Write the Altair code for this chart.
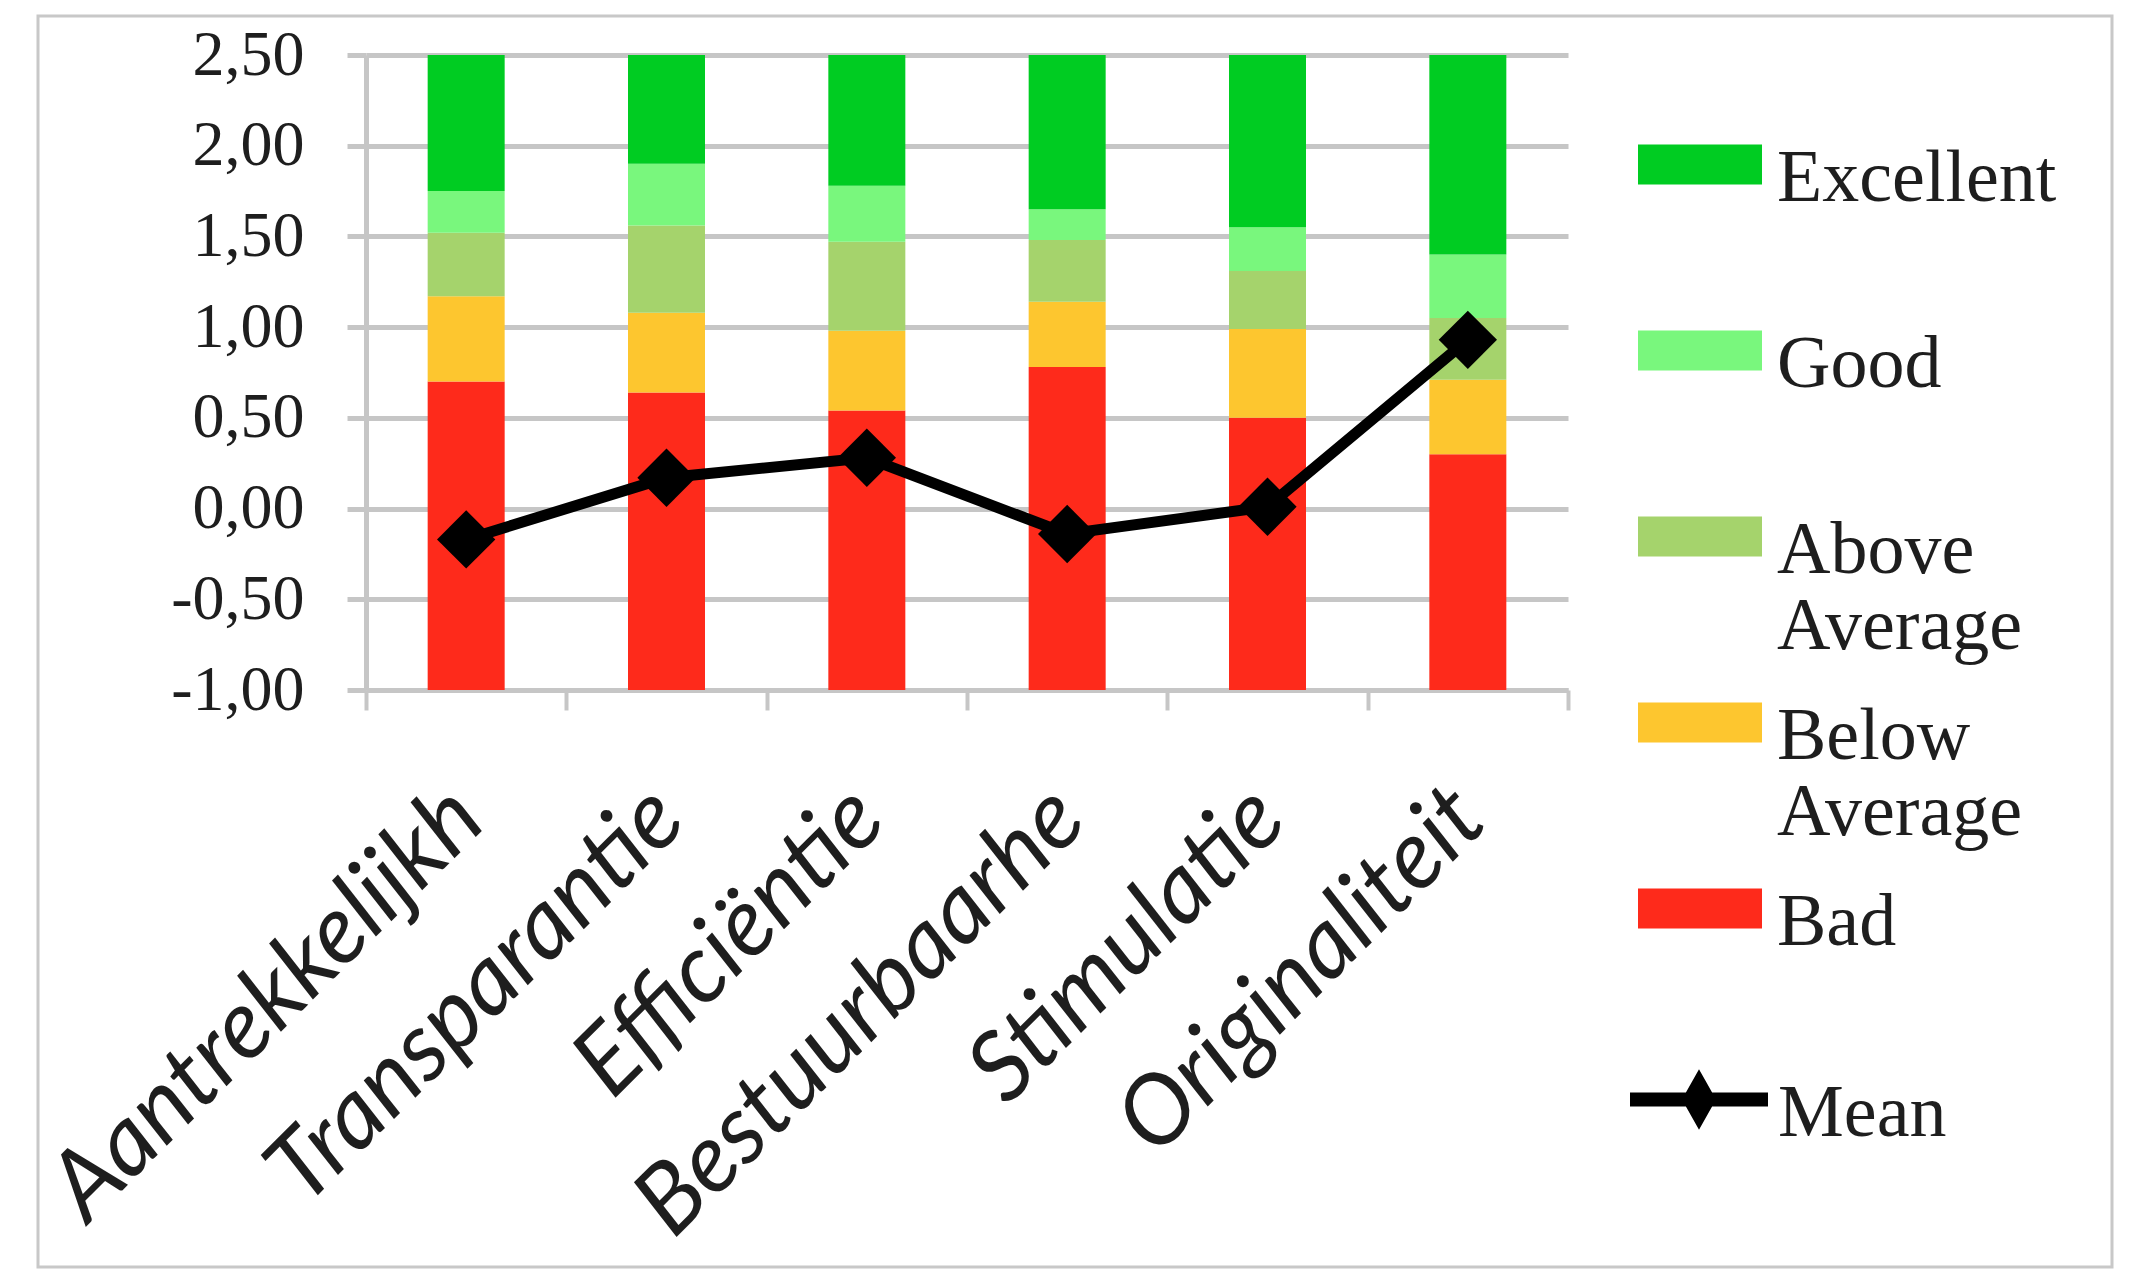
import altair as alt
import pandas as pd

categories = ["Aantrekkelijkh", "Transparantie", "Efficiëntie", "Bestuurbaarhe", "Stimulatie", "Originaliteit"]
levels = ["Excellent", "Good", "Above Average", "Below Average", "Bad"]
level_colors = ["#00cc22", "#79f77d", "#a5d36c", "#fdc62f", "#fe2a1b"]
axis_min = -1.0
bad_top = [0.70, 0.64, 0.54, 0.78, 0.50, 0.30]
below_top = [1.17, 1.08, 0.98, 1.14, 0.99, 0.71]
above_top = [1.52, 1.56, 1.47, 1.48, 1.31, 1.05]
good_top = [1.75, 1.90, 1.78, 1.65, 1.55, 1.40]
excellent_top = [2.50, 2.50, 2.50, 2.50, 2.50, 2.50]
mean_values = [-0.17, 0.17, 0.28, -0.14, 0.01, 0.93]
y_ticks = [-1.0, -0.5, 0.0, 0.5, 1.0, 1.5, 2.0, 2.5]

rows = []
stack_order = ["Bad", "Below Average", "Above Average", "Good", "Excellent"]
for i, c in enumerate(categories):
    bounds = [axis_min, bad_top[i], below_top[i], above_top[i], good_top[i], excellent_top[i]]
    for j, lvl in enumerate(stack_order):
        rows.append({"cat": c, "level": lvl, "lo": bounds[j], "hi": bounds[j + 1]})
bars_df = pd.DataFrame(rows)
mean_df = pd.DataFrame({"cat": categories, "mean": mean_values, "series": ["Mean"] * len(categories)})

GRID = "#c6c6c6"
TXT = "#1e1e1e"

x_enc = alt.X(
    "cat:N",
    sort=categories,
    scale=alt.Scale(paddingInner=0, paddingOuter=0),
    axis=alt.Axis(
        title=None, grid=False, tickBand="extent", tickSize=20, tickColor=GRID, tickWidth=4,
        domainColor=GRID, domainWidth=5, labelAngle=-45, labelAlign="right", labelBaseline="top",
        labelFont="Lato", labelFontStyle="italic", labelFontSize=96, labelPadding=60,
        labelOffset=-32, labelColor=TXT, labelLimit=2000,
    ),
)
y_scale = alt.Scale(domain=[-1, 2.5], nice=False, zero=False)

border = alt.Chart(pd.DataFrame({"a": [0]})).mark_rect(
    fill="transparent", stroke="#c8c8c8", strokeWidth=3
).encode(x=alt.value(-328), x2=alt.value(1746), y=alt.value(-39), y2=alt.value(1212))

bars = alt.Chart(bars_df).mark_bar(size=77).encode(
    x=x_enc,
    y=alt.Y(
        "lo:Q", scale=y_scale,
        axis=alt.Axis(
            title=None, values=y_ticks,
            labelExpr="(datum.value < 0 ? '-' : '') + replace(format(abs(datum.value), '.2f'), '.', ',')",
            grid=True, gridColor=GRID, gridWidth=5, domainColor=GRID, domainWidth=5,
            tickColor=GRID, tickWidth=5, tickSize=19, labelFont="Liberation Serif",
            labelFontSize=64, labelColor=TXT, labelPadding=43,
        ),
    ),
    y2="hi:Q",
    fill=alt.Fill(
        "level:N",
        scale=alt.Scale(domain=levels, range=level_colors),
        legend=alt.Legend(
            title=None, orient="none", legendX=1297, legendY=51, direction="vertical",
            symbolType="M-12.4,0.3H12.4V8.3H-12.4Z", symbolSize=100, symbolStrokeWidth=0,
            symbolOpacity=1, labelFont="Liberation Serif", labelFontSize=74, labelColor=TXT,
            labelExpr="split(datum.label, ' ')", labelBaseline="top", labelOffset=40,
            gridAlign="all", rowPadding=0, padding=0, labelLimit=2000,
        ),
    ),
)

line = alt.Chart(mean_df).mark_line(strokeWidth=11).encode(
    x=x_enc,
    y=alt.Y("mean:Q", scale=y_scale),
    stroke=alt.Stroke(
        "series:N",
        scale=alt.Scale(domain=["Mean"], range=["#000000"]),
        legend=alt.Legend(
            title=None, orient="none", legendX=1296, legendY=986,
            symbolType="M-3.45,1.075H3.45M0,0.275L0.45,1.075L0,1.875L-0.45,1.075Z", symbolSize=1600,
            symbolStrokeWidth=14, symbolFillColor="#000000", labelFont="Liberation Serif",
            labelFontSize=74, labelColor=TXT, labelBaseline="top", labelOffset=42,
            padding=0, labelLimit=2000,
        ),
    ),
)

points = alt.Chart(mean_df).mark_point(
    shape="diamond", filled=True, size=3400, color="#000000", opacity=1
).encode(x=x_enc, y=alt.Y("mean:Q", scale=y_scale))

chart = alt.layer(border, bars, line, points).properties(
    width=1202, height=635,
    autosize=alt.AutoSizeParams(type="none"),
    padding={"left": 358, "top": 47, "right": 566, "bottom": 579},
    background="white",
).configure_view(stroke="transparent")

chart.save("out.html", embed_options={"renderer": "svg", "actions": False})
